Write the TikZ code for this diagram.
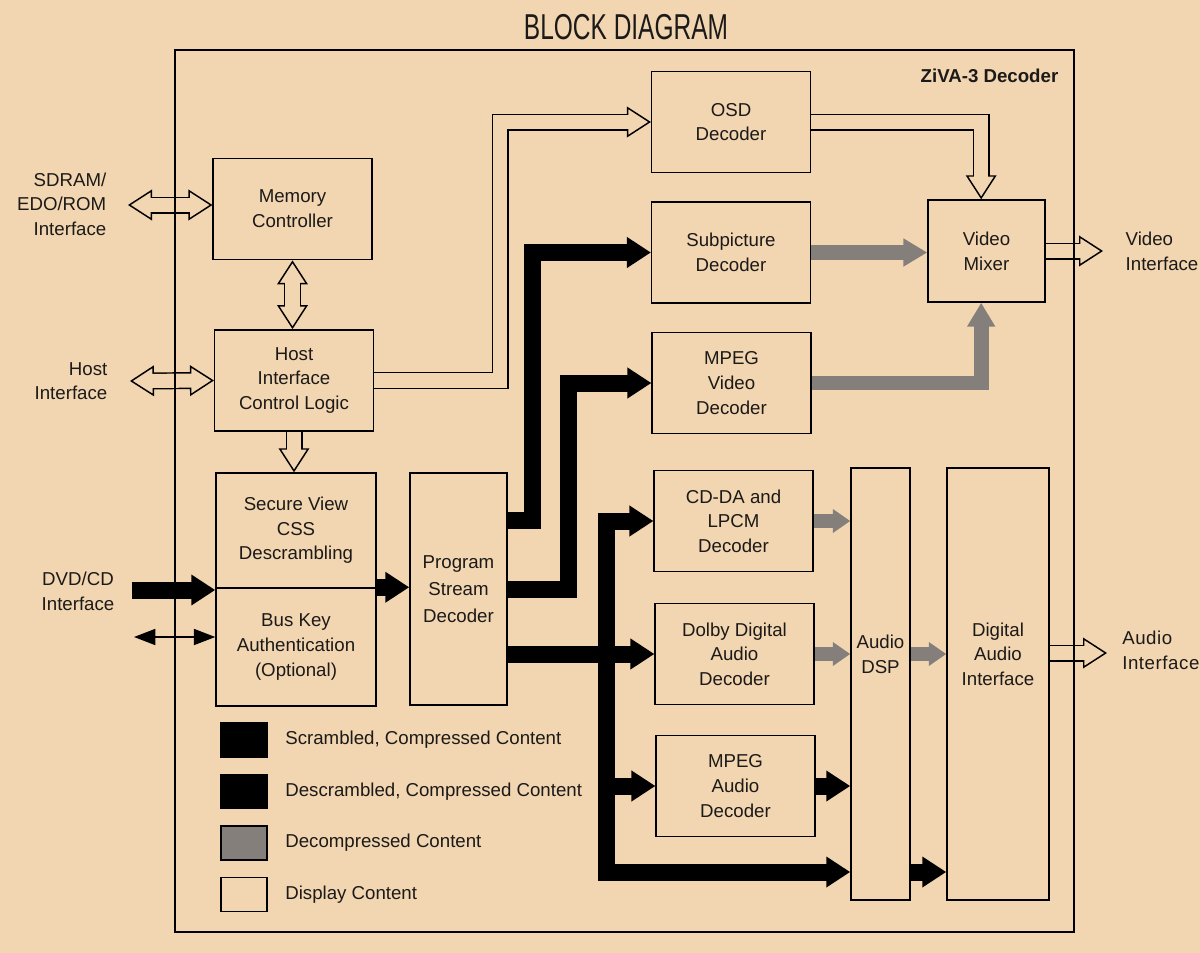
\documentclass[tikz,border=0pt]{standalone}
\usepackage{fontspec}
\setmainfont{Liberation Sans}
\newfontfamily\spacedfont[LetterSpace=3]{Liberation Sans}
\usepackage{xcolor}
\usetikzlibrary{arrows.meta,positioning}
\definecolor{paper}{HTML}{F2D5B1}
\definecolor{decomp}{HTML}{847F7A}
\definecolor{ink}{HTML}{1C1A18}
\newcommand{\boxfont}{\fontsize{14}{18.5}\selectfont}
\pgfdeclarelayer{wires}
\pgfsetlayers{wires,main}

\begin{document}
\begin{tikzpicture}[
  x=0.75pt,
  y=-0.75pt,
  every node/.style={font=\boxfont, text=ink},
  blk/.style={draw, line width=1.1pt, align=center, inner sep=0pt},
  decbox/.style={blk, minimum width=119pt, minimum height=76pt},
  legsq/.style={draw, line width=1.1pt, minimum width=34.5pt, minimum height=25.5pt, inner sep=0pt},
  legtxt/.style={right=13pt of #1, inner sep=0pt},
  bigarrow/.style={line width=12.75pt, line join=miter, -{Triangle[length=18pt,width=22pt]}},
  grayarrow/.style={draw=decomp, line width=11pt, line join=miter, -{Triangle[length=18pt,width=20pt]}},
  smallgray/.style={draw=decomp, line width=10pt, -{Triangle[length=13pt,width=17pt]}},
  hollow/.style={line width=12.75pt, line join=miter,
    -{Triangle[length=18pt,width=23pt,line width=1.1pt,fill=paper]},
    postaction={draw=paper, line width=10.55pt, -, shorten >=16.5pt}},
  hollowboth/.style={line width=12.75pt,
    {Triangle[length=18pt,width=23pt,line width=1.1pt,fill=paper]}-{Triangle[length=18pt,width=23pt,line width=1.1pt,fill=paper]},
    postaction={draw=paper, line width=10.55pt, -, shorten >=16.5pt, shorten <=16.5pt}},
  thinboth/.style={line width=1.2pt, {Triangle[length=16pt,width=12pt]}-{Triangle[length=16pt,width=12pt]}}
]
\useasboundingbox (0,0) rectangle (1200,953);

\node[font=\fontsize{27}{27}\selectfont] (title) at (626,27) {\scalebox{0.68}[1]{BLOCK DIAGRAM}};
\node[draw, line width=1.1pt, minimum width=674.25pt, minimum height=661.5pt] (chip) at (624.5,491) {};
\node[font=\boxfont\bfseries, anchor=east] (chiplbl) at (1063,76) {ZiVA-3 Decoder};

\node[align=right, anchor=east] (sdramlbl) at (111,204) {SDRAM/\\EDO/ROM\\Interface};
\node[align=right, anchor=east] (hostlbl) at (112,381) {Host\\Interface};
\node[align=center] (dvdlbl) at (78,591) {DVD/CD\\Interface};
\node[align=left, anchor=west] (vidlbl) at (1121,251) {Video\\Interface};
\node[align=left, anchor=west, inner sep=0pt, font=\spacedfont\boxfont] (audlbl) at (1122,650) {Audio\\Interface};

\node[decbox] (mem) at (292.5,209) {Memory\\Controller};
\node[decbox] (host) at (294,380.5) {Host\\Interface\\Control Logic};
\node[blk, minimum width=120pt, minimum height=86.25pt] (secure) at (296,530.5) {Secure View\\CSS\\Descrambling};
\node[blk, minimum width=120pt, minimum height=88.5pt] (busk) at (296,647) {Bus Key\\Authentication\\(Optional)};
\node[blk, minimum width=72.75pt, minimum height=174pt, font=\fontsize{14}{20}\selectfont] (psd) at (458.5,589) {Program\\Stream\\Decoder};
\node[decbox] (osd) at (731,122) {OSD\\Decoder};
\node[decbox] (sub) at (731,252.5) {Subpicture\\Decoder};
\node[decbox] (mpv) at (731.5,383) {MPEG\\Video\\Decoder};
\node[blk, minimum width=87.75pt, minimum height=76.5pt] (mix) at (986.5,251) {Video\\Mixer};
\node[decbox] (cdda) at (733.5,521) {CD-DA and\\LPCM\\Decoder};
\node[decbox] (dolby) at (734.5,654) {Dolby Digital\\Audio\\Decoder};
\node[decbox] (mpa) at (735.5,786) {MPEG\\Audio\\Decoder};
\node[blk, minimum width=44.25pt, minimum height=324pt] (dsp) at (880.5,684) {};
\node[align=center] (dsptxt) at (dsp |- dolby) {Audio\\DSP};
\node[blk, minimum width=76.5pt, minimum height=324pt] (dai) at (998,684) {};
\node[align=center] (daitxt) at (dai |- dolby) {Digital\\Audio\\Interface};

\node[legsq, fill=black] (scr) at (244,740) {};
\node[legtxt=scr] (scrtxt) {Scrambled, Compressed Content};
\node[legsq, fill=black, below=12pt of scr] (dscr) {};
\node[legtxt=dscr] (dscrtxt) {Descrambled, Compressed Content};
\node[legsq, fill=decomp, below=12pt of dscr] (dcmp) {};
\node[legtxt=dcmp] (dcmptxt) {Decompressed Content};
\node[legsq, below=12pt of dcmp] (disp) {};
\node[legtxt=disp] (disptxt) {Display Content};

\coordinate (sdramin) at (128,205);
\coordinate (hostin) at (130,381);
\coordinate (dvdin) at (132,590);
\coordinate (keyin) at (134,637);
\coordinate (vidout) at (1103,251);
\coordinate (audout) at (1107,653);
\coordinate (bus) at (606,872);

\begin{pgfonlayer}{wires}
\fill[paper] (0,0) rectangle (1200,953);
\draw[hollowboth] (sdramin) -- (sdramin -| mem.west);
\draw[hollowboth] (hostin) -- (host.west);
\draw[hollowboth] (mem.south) -- (mem.south |- host.north);
\draw[hollow] (host.south) -- (host.south |- secure.north);
\draw[hollow] (host.east) -- ++(126,0) |- (osd.west);
\draw[hollow] (osd.east) -| ([xshift=-4pt]mix.north);
\draw[hollow] (mix.east) -- (vidout);
\draw[hollow] (audout -| dai.east) -- (audout);

\draw[bigarrow] (dvdin) -- (dvdin -| secure.west);
\draw[thinboth] (keyin) -- (keyin -| busk.west);
\draw[bigarrow] (busk.north east) -- (busk.north east -| psd.west);
\draw[bigarrow] ([yshift=51.75pt]psd.east) -- ++(25,0) |- (sub.west);
\draw[bigarrow] (psd.east) -- ++(61,0) |- (mpv.west);
\draw[bigarrow] (psd.east |- dolby.west) -- (dolby.west);
\draw[bigarrow] (bus |- dolby.west) |- (cdda.west);
\draw[bigarrow] (bus |- dolby.west) -- (bus) -- (bus -| dsp.west);
\draw[bigarrow] (bus |- mpa.west) -- (mpa.west);
\draw[bigarrow] (mpa.east) -- (mpa.east -| dsp.west);
\draw[bigarrow] (bus -| dsp.east) -- (bus -| dai.west);

\draw[grayarrow] (sub.east) -- (sub.east -| mix.west);
\draw[grayarrow] (mpv.east) -| ([xshift=-4pt]mix.south);
\draw[smallgray] (cdda.east) -- (cdda.east -| dsp.west);
\draw[smallgray] (dolby.east) -- (dolby.east -| dsp.west);
\draw[smallgray] (dsp.east |- dolby.east) -- (dai.west |- dolby.east);
\end{pgfonlayer}
\end{tikzpicture}
\end{document}
